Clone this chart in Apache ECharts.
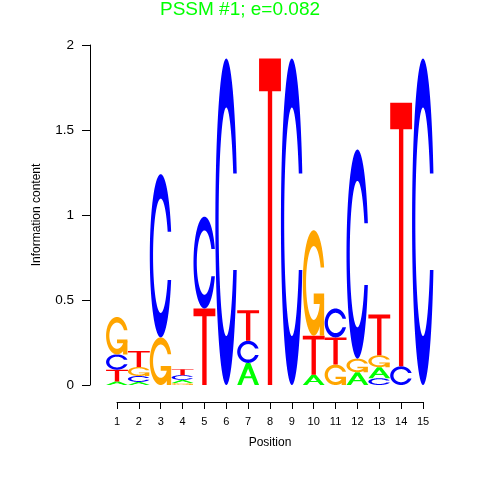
<!DOCTYPE html>
<html>
<head>
<meta charset="utf-8">
<script src="https://cdn.jsdelivr.net/npm/echarts@6/dist/echarts.min.js"></script>
<style>html,body{margin:0;padding:0;background:#fff}#c{width:480px;height:480px}</style>
</head>
<body>
<div id="c"></div>
<script>
// ---- data ----
const positions = [1,2,3,4,5,6,7,8,9,10,11,12,13,14,15];
const letters = ['A','C','G','T'];
const hA = [0.02, 0.018, 0,    0.018, 0,    0,    0.13, 0,    0,    0.06, 0,    0.075, 0.065, 0,    0];
const hC = [0.09, 0.035, 0.96, 0.028, 0.54, 1.92, 0.13, 0,    1.92, 0,    0.17, 1.23,  0.04,  0.11, 1.92];
const hG = [0.22, 0.053, 0.28, 0.012, 0,    0,    0,    0,    0,    0.62, 0.12, 0.08,  0.07,  0,    0];
const hT = [0.07, 0.094, 0,    0.035, 0.45, 0,    0.18, 1.92, 0,    0.23, 0.16, 0,     0.24,  1.55, 0];
const yTicks = [0, 0.5, 1, 1.5, 2];
const titleText = 'PSSM #1; e=0.082';

const colors = {A:'#00FF00', C:'#0000FF', G:'#FFA500', T:'#FF0000'};
const heights = {A:hA, C:hC, G:hG, T:hT};

// build stacked data: smallest at the bottom
const data = [];
positions.forEach((p, i) => {
  const items = letters.map((l, k) => ({l, k, h: heights[l][i]})).filter(d => d.h > 0);
  items.sort((a, b) => a.h - b.h);
  let y = 0;
  items.forEach(d => { data.push([p, y, y + d.h, d.k]); y += d.h; });
});

// ---- glyph shapes in unit box (y up) ----
const PI = Math.PI;
function cShape() {
  const n = 100, a1 = [], a2 = [];
  for (let i = 0; i < n; i++) {
    a1.push(0.3 + PI/2 + (PI - (0.3 + PI/2)) * i / (n - 1));
    a2.push(PI + 0.5 * PI * i / (n - 1));
  }
  const l1 = a1.map(a => [0.5 + 0.5*Math.sin(a), 0.5 + 0.5*Math.cos(a)]);
  const l2 = a2.map(a => [0.5 + 0.5*Math.sin(a), 0.5 + 0.5*Math.cos(a)]);
  const maxY = Math.max(...l1.map(p => p[1]));
  const r1 = Math.max(...l1.map(p => p[0]));
  const lo = l1.concat(l2);
  const outer = lo.concat(lo.slice().reverse().map(p => [p[0], 1 - p[1]]));
  let i1 = a1.map(a => [0.5 + 0.35*Math.sin(a), 0.5 + 0.35*Math.cos(a)]).filter(p => p[1] <= maxY);
  i1[0] = [i1[0][0], maxY];
  const i2 = a2.map(a => [0.5 + 0.35*Math.sin(a), 0.5 + 0.35*Math.cos(a)]);
  const li = i1.concat(i2);
  const inner = li.concat(li.slice().reverse().map(p => [p[0], 1 - p[1]]));
  return {ring: outer.concat(inner.slice().reverse()), r1};
}
const cs = cShape();
const glyphs = {
  A: [{pts: [[0,0],[0.4,1],[0.6,1],[1,0],[0.8,0],[0.68,0.3],[0.32,0.3],[0.2,0]]},
      {pts: [[0.36,0.4],[0.5,0.75],[0.64,0.4]], hole: true}],
  C: [{pts: cs.ring}],
  G: [{pts: cs.ring},
      {pts: [[cs.r1,0.4],[0.5,0.4],[0.5,0.3],[cs.r1-0.2,0.3],[cs.r1-0.2,0],[cs.r1,0]]}],
  T: [{pts: [[0,1],[1,1],[1,0.9],[0.6,0.9],[0.6,0],[0.4,0],[0.4,0.9],[0,0.9]]}]
};

function renderItem(params, api) {
  const x = api.value(0), y0 = api.value(1), y1 = api.value(2), l = letters[api.value(3)];
  const p0 = api.coord([x - 0.5, y0]);
  const p1 = api.coord([x + 0.5, y1]);
  const left = p0[0], w = p1[0] - p0[0], bottom = p0[1], h = p0[1] - p1[1];
  const children = glyphs[l].map(g => ({
    type: 'polygon',
    shape: {points: g.pts.map(p => [left + p[0]*w, bottom - p[1]*h])},
    style: {fill: g.hole ? '#ffffff' : colors[l], stroke: null}
  }));
  return {type: 'group', children};
}

const FONT = '"Liberation Sans", Arial, Helvetica, sans-serif';
const unit = 306 / 14;
const chart = echarts.init(document.getElementById('c'), null, {renderer: 'canvas'});
chart.setOption({
  animation: false,
  backgroundColor: '#ffffff',
  title: {
    text: titleText, left: 'center', top: 0, padding: 0,
    textStyle: {color: '#00FF00', fontSize: 19, fontWeight: 'normal', fontFamily: FONT}
  },
  grid: [
    {left: 117 - unit/2, width: unit*15, top: 45, height: 340},
    {left: 117, width: 306, top: 45, height: 340}
  ],
  xAxis: [
    {type: 'value', gridIndex: 0, min: 0.5, max: 15.5, show: false},
    {type: 'value', gridIndex: 1, min: positions[0], max: positions[positions.length-1], interval: 1,
     position: 'bottom', offset: 17,
     axisLine: {show: true, onZero: false, lineStyle: {color: '#000', width: 1}},
     axisTick: {show: true, inside: false, length: 7, lineStyle: {color: '#000'}},
     axisLabel: {show: true, margin: 14, fontSize: 11, color: '#000', fontFamily: FONT},
     splitLine: {show: false},
     name: 'Position', nameLocation: 'middle', nameGap: 35,
     nameTextStyle: {fontSize: 12, color: '#000', fontFamily: FONT}}
  ],
  yAxis: [
    {type: 'value', gridIndex: 0, min: 0, max: 2, show: false},
    {type: 'value', gridIndex: 1, min: yTicks[0], max: yTicks[yTicks.length-1], interval: 0.5,
     position: 'left', offset: 27,
     axisLine: {show: true, onZero: false, lineStyle: {color: '#000', width: 1}},
     axisTick: {show: true, inside: false, length: 8, lineStyle: {color: '#000'}},
     axisLabel: {show: true, margin: 16, fontSize: 13.5, color: '#000', fontFamily: FONT},
     splitLine: {show: false},
     name: 'Information content', nameLocation: 'middle', nameGap: 47, nameRotate: 90,
     nameTextStyle: {fontSize: 12, color: '#000', fontFamily: FONT}}
  ],
  series: [{
    type: 'custom', xAxisIndex: 0, yAxisIndex: 0, silent: true,
    renderItem, data, clip: false
  }]
});
</script>
</body>
</html>
